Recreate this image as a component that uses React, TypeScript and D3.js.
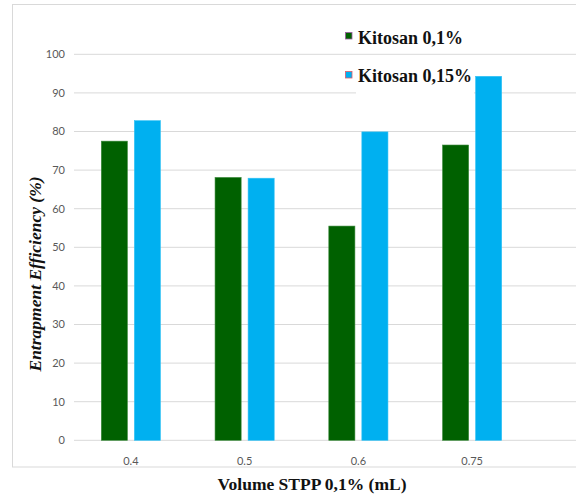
import React from "react";
import * as d3 from "d3";

const categories = ["0.4", "0.5", "0.6", "0.75"];
const seriesNames = ["Kitosan 0,1%", "Kitosan 0,15%"];
const kitosan01 = [77.5, 68.1, 55.5, 76.5];
const kitosan015 = [82.8, 67.9, 79.9, 94.3];
const yTicks = [0, 10, 20, 30, 40, 50, 60, 70, 80, 90, 100];
const colors = ["#006100", "#00b0f0"];

const W = 576;
const H = 497;

export default function App() {
  const y = d3.scaleLinear().domain([0, 100]).range([440.3, 54.3]);
  const x0 = d3
    .scaleBand<string>()
    .domain(categories)
    .range([74, 529])
    .paddingInner(0.48)
    .paddingOuter(0.24);
  const x1 = d3
    .scaleBand<string>()
    .domain(seriesNames)
    .range([0, x0.bandwidth()])
    .paddingInner(0.21);
  const series = [kitosan01, kitosan015];

  const tickFont = "Lato, 'Liberation Sans', sans-serif";
  const serif = "'Liberation Serif', 'DejaVu Serif', serif";

  return (
    <svg
      width={W}
      height={H}
      style={{ position: "absolute", left: 0, top: 0, background: "#fff" }}
    >
      {/* chart frame */}
      <rect x={12.5} y={4.5} width={W} height={462.5} fill="#fff" stroke="#d9d9d9" strokeWidth={1} />

      {/* gridlines and y tick labels */}
      {yTicks.map((t) => (
        <g key={t}>
          <line x1={74} x2={W} y1={y(t)} y2={y(t)} stroke="#d9d9d9" strokeWidth={1} />
          <text
            x={65}
            y={y(t)}
            dy="0.35em"
            textAnchor="end"
            fontFamily={tickFont}
            fontSize={11}
            fill="#595959"
          >
            {t}
          </text>
        </g>
      ))}

      {/* white backing behind the second legend entry */}
      <rect x={356} y={60} width={118} height={36} fill="#fff" />

      {/* bars */}
      {categories.map((c, i) => (
        <g key={c} transform={`translate(${x0(c)},0)`}>
          {series.map((vals, s) => (
            <rect
              key={s}
              x={x1(seriesNames[s])}
              y={y(vals[i])}
              width={x1.bandwidth()}
              height={y(0) - y(vals[i])}
              fill={colors[s]}
              stroke={s === 0 ? "#3d8a3d" : "#33c2f5"}
              strokeWidth={0.6}
            />
          ))}
        </g>
      ))}

      {/* x tick labels */}
      {categories.map((c) => (
        <text
          key={c}
          x={(x0(c) ?? 0) + x0.bandwidth() / 2}
          y={465}
          textAnchor="middle"
          fontFamily={tickFont}
          fontSize={11}
          fill="#595959"
        >
          {c}
        </text>
      ))}

      {/* legend */}
      {seriesNames.map((n, i) => (
        <g key={n}>
          <rect
            x={345.5}
            y={i === 0 ? 32.5 : 71.5}
            width={6.5}
            height={6.5}
            fill={colors[i]}
            stroke={i === 0 ? "#9a5aa0" : "#e05a6a"}
            strokeWidth={0.8}
          />
          <text
            x={358}
            y={i === 0 ? 44 : 82}
            fontFamily={serif}
            fontWeight="bold"
            fontSize={18}
            fill="#111"
          >
            {n}
          </text>
        </g>
      ))}

      {/* axis titles */}
      <text
        x={312}
        y={490}
        textAnchor="middle"
        fontFamily={serif}
        fontWeight="bold"
        fontSize={17.5}
        fill="#111"
      >
        Volume STPP 0,1% (mL)
      </text>
      <text
        transform="translate(41,274) rotate(-90)"
        textAnchor="middle"
        fontFamily={serif}
        fontWeight="bold"
        fontStyle="italic"
        fontSize={17.5}
        fill="#111"
      >
        Entrapment Efficiency (%)
      </text>
    </svg>
  );
}
